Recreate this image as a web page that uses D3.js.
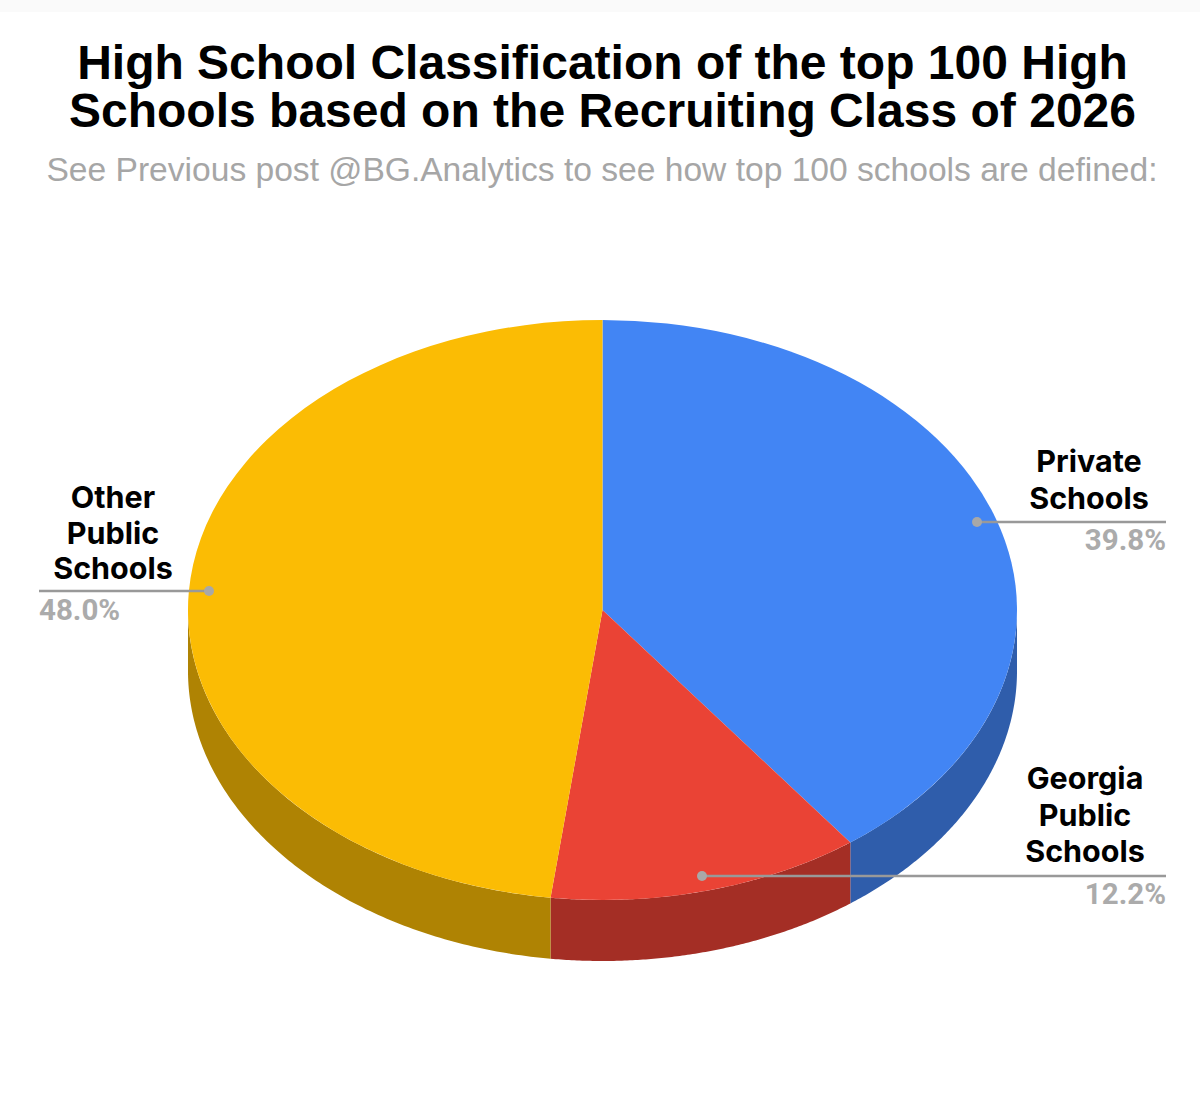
<!DOCTYPE html>
<html>
<head>
<meta charset="utf-8">
<script src="https://cdn.jsdelivr.net/npm/d3@7/dist/d3.min.js"></script>
<style>
  html, body { margin: 0; padding: 0; background: #fff; }
  svg { display: block; }
</style>
</head>
<body>
<script>
var categories = ["Private Schools", "Georgia Public Schools", "Other Public Schools"];
var values = [39.8, 12.2, 48.0];
var percentLabels = ["39.8%", "12.2%", "48.0%"];
var labelLines = [["Private", "Schools"], ["Georgia", "Public", "Schools"], ["Other", "Public", "Schools"]];
var topColors = ["#4285f4", "#ea4335", "#fbbc04"];
var sideColors = ["#2f5dab", "#a42e25", "#af8303"];
var titleLines = ["High School Classification of the top 100 High", "Schools based on the Recruiting Class of 2026"];
var subtitle = "See Previous post @BG.Analytics to see how top 100 schools are defined:";

var width = 1200, height = 1103;
var cx = 602.5, cy = 610, rx = 414.5, ry = 290, depth = 61;

// leader line layout for each slice
var leaders = [
  { dotX: 977, dotY: 522, endX: 1166, textX: 1089, anchor: "end", firstY: 472, step: 37, pctY: 550 },
  { dotX: 702, dotY: 876, endX: 1166, textX: 1085, anchor: "end", firstY: 789, step: 36.5, pctY: 904 },
  { dotX: 209, dotY: 591, endX: 39, textX: 113, anchor: "start", firstY: 508, step: 35.5, pctY: 620 }
];

var svg = d3.select("body").append("svg")
  .attr("width", width)
  .attr("height", height)
  .attr("viewBox", "0 0 " + width + " " + height);

svg.append("rect").attr("width", width).attr("height", height).attr("fill", "#fff");
svg.append("rect").attr("width", width).attr("height", 12).attr("fill", "#fafafa");

svg.selectAll(".title")
  .data(titleLines)
  .enter().append("text")
  .attr("class", "title")
  .attr("x", 602.5)
  .attr("y", function(d, i) { return 79 + i * 48; })
  .attr("text-anchor", "middle")
  .attr("font-family", "'Liberation Sans', Arial, sans-serif")
  .attr("font-weight", "bold")
  .attr("font-size", 48)
  .attr("fill", "#000")
  .text(function(d) { return d; });

svg.append("text")
  .attr("x", 602)
  .attr("y", 181)
  .attr("text-anchor", "middle")
  .attr("font-family", "'Liberation Sans', Arial, sans-serif")
  .attr("font-size", 33.6)
  .attr("fill", "#a6a6a6")
  .text(subtitle);

var pie = d3.pie().sort(null).value(function(d) { return d; });
var slices = pie(values);

// x/y of the tilted pie, angle measured clockwise from 12 o'clock
var ellipseX = d3.scaleLinear().domain([-1, 1]).range([cx - rx, cx + rx]);
var ellipseY = d3.scaleLinear().domain([-1, 1]).range([cy + ry, cy - ry]);

var line = d3.line();

function sidePath(s) {
  // only the front half of the wall can be seen
  var a0 = Math.max(s.startAngle, Math.PI / 2);
  var a1 = Math.min(s.endAngle, Math.PI * 1.5);
  if (a1 <= a0) return null;
  var n = 120;
  var upper = [], lower = [];
  for (var i = 0; i <= n; i++) {
    var a = a0 + (a1 - a0) * i / n;
    var px = ellipseX(Math.sin(a)), py = ellipseY(Math.cos(a));
    upper.push([px, py]);
    lower.unshift([px, py + depth]);
  }
  return line(upper.concat(lower)) + "Z";
}

svg.append("g").selectAll("path")
  .data(slices)
  .enter().append("path")
  .attr("d", sidePath)
  .attr("fill", function(d, i) { return sideColors[i]; });

var arc = d3.arc().innerRadius(0).outerRadius(rx);

svg.append("g")
  .attr("transform", "translate(" + cx + "," + cy + ") scale(1," + (ry / rx) + ")")
  .selectAll("path")
  .data(slices)
  .enter().append("path")
  .attr("d", arc)
  .attr("fill", function(d, i) { return topColors[i]; });

// leader lines
var lead = svg.append("g").selectAll("g")
  .data(leaders)
  .enter().append("g");

lead.append("line")
  .attr("x1", function(d) { return d.dotX; })
  .attr("x2", function(d) { return d.endX; })
  .attr("y1", function(d) { return d.dotY; })
  .attr("y2", function(d) { return d.dotY; })
  .attr("stroke", "#999")
  .attr("stroke-width", 2.5);

lead.append("circle")
  .attr("cx", function(d) { return d.dotX; })
  .attr("cy", function(d) { return d.dotY; })
  .attr("r", 5)
  .attr("fill", "#a8a8a8");

lead.each(function(d, i) {
  var g = d3.select(this);
  labelLines[i].forEach(function(t, j) {
    g.append("text")
      .attr("x", d.textX)
      .attr("y", d.firstY + j * d.step)
      .attr("text-anchor", "middle")
      .attr("font-family", "Inter, sans-serif")
      .attr("font-weight", 700)
      .attr("font-size", 30.5)
      .attr("fill", "#000")
      .text(t);
  });
  g.append("text")
    .attr("x", d.endX)
    .attr("y", d.pctY)
    .attr("text-anchor", d.anchor)
    .attr("font-family", "Roboto, sans-serif")
    .attr("font-weight", 700)
    .attr("font-size", 29.5)
    .attr("fill", "#ababab")
    .text(percentLabels[i]);
});
</script>
</body>
</html>
